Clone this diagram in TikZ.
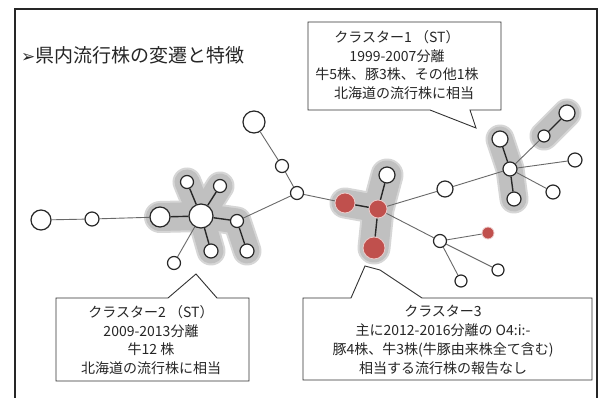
\documentclass[tikz,border=0pt]{standalone}
\usepackage{fontspec}
\setmainfont{Noto Sans CJK JP}
\newfontfamily\djv{DejaVu Sans}
\usetikzlibrary{backgrounds}
\definecolor{hlin}{RGB}{192,192,192}
\definecolor{hlout}{RGB}{214,214,214}
\definecolor{nred}{RGB}{192,80,77}
\definecolor{edg}{RGB}{105,105,105}
\definecolor{ndraw}{RGB}{40,40,40}
\definecolor{cdraw}{RGB}{50,50,50}
\tikzset{
  wn/.style={circle, draw=ndraw, fill=white, line width=1.2pt, inner sep=0pt, minimum size=#1},
  rn/.style={circle, draw=white!70!nred, fill=nred, line width=0.8pt, inner sep=0pt, minimum size=#1},
  tedge/.style={draw=ndraw, line width=1.4pt},
  fedge/.style={draw=edg, line width=0.9pt},
  hlo/.style={draw=hlout, line width=#1, line cap=round, line join=round},
  hli/.style={draw=hlin, line width=#1, line cap=round, line join=round},
  callout/.style={draw=cdraw, line width=0.9pt, fill=white},
  ctext/.style={align=center, inner sep=0pt, font=\fontsize{14}{18.8}\selectfont, text=black!85},
}
\begin{document}
\begin{tikzpicture}[x=1pt, y=-1pt]
\useasboundingbox (0,0) rectangle (602,398);
% frame
\draw[line width=2pt, draw=black!85] (15,398) -- (15,9) -- (597,9) -- (597,398);
% title
\node[anchor=west, inner sep=0pt, font=\fontsize{19}{22}\selectfont, text=black!85] (title) at (21,55) {{\djv\fontsize{17}{20}\selectfont ➢}県内流行株の変遷と特徴};

% nodes
\node[wn=20pt] (A) at (41,220) {};
\node[wn=14pt] (B) at (92,219) {};
\node[wn=20pt] (C2L) at (160,217) {};
\node[wn=24pt] (C2C) at (201,216) {};
\node[wn=13pt] (C2TL) at (187,182) {};
\node[wn=13pt] (C2TR) at (220,186) {};
\node[wn=13pt] (C2R) at (237,221) {};
\node[wn=14pt] (C2B) at (211,251) {};
\node[wn=14pt] (C2BR) at (247,251) {};
\node[wn=13pt] (LL) at (174,263) {};
\node[wn=13pt] (J) at (297,193) {};
\node[wn=13pt] (K) at (282,166) {};
\node[wn=22pt] (BIG) at (254,122) {};
\node[rn=20pt] (R1) at (345,203) {};
\node[rn=18pt] (R2) at (378,209) {};
\node[wn=16pt] (RT) at (387,175) {};
\node[rn=22pt] (RB) at (374,248) {};
\node[wn=16pt] (W) at (445,189) {};
\node[wn=14pt] (H) at (510,169) {};
\node[wn=16pt] (VT) at (500,139) {};
\node[wn=14pt] (VB) at (514,199) {};
\node[wn=12pt] (D1) at (544,136) {};
\node[wn=16pt] (D2) at (567,113) {};
\node[wn=14pt] (RR) at (575,160) {};
\node[wn=14pt] (LR) at (553,192) {};
\node[wn=13pt] (M) at (440,241) {};
\node[rn=12pt] (SR) at (488,233) {};
\node[wn=12pt] (BR) at (498,270) {};
\node[wn=12pt] (BB) at (461,281) {};

\begin{scope}[on background layer]
  \fill[white] (0,0) rectangle (602,398);
  % highlights outer
  \draw[hlo=32pt] (C2L.center) -- (C2C.center);
  \draw[hlo=29pt] (C2C.center) -- (C2TL.center);
  \draw[hlo=29pt] (C2C.center) -- (C2TR.center);
  \draw[hlo=29pt] (C2C.center) -- (C2R.center) -- (C2BR.center);
  \draw[hlo=29pt] (C2C.center) -- (C2B.center);
  \draw[hlo=31pt] (R1.center) -- (R2.center);
  \draw[hlo=33pt] (RT.center) -- (R2.center) -- (RB.center);
  \draw[hlo=29pt] (VT.center) -- (H.center) -- (VB.center);
  \draw[hlo=29pt] (D1.center) -- (D2.center);
  % highlights inner
  \draw[hli=28pt] (C2L.center) -- (C2C.center);
  \draw[hli=25pt] (C2C.center) -- (C2TL.center);
  \draw[hli=25pt] (C2C.center) -- (C2TR.center);
  \draw[hli=25pt] (C2C.center) -- (C2R.center) -- (C2BR.center);
  \draw[hli=25pt] (C2C.center) -- (C2B.center);
  \fill[hlin] (C2C) circle (18pt);
  \draw[hli=27pt] (R1.center) -- (R2.center);
  \draw[hli=29pt] (RT.center) -- (R2.center) -- (RB.center);
  \draw[hli=25pt] (VT.center) -- (H.center) -- (VB.center);
  \draw[hli=25pt] (D1.center) -- (D2.center);
  % edges
  \draw[fedge] (A) -- (B);
  \draw[fedge] (B) -- (C2L);
  \draw[tedge] (C2L) -- (C2C);
  \draw[tedge] (C2C) -- (C2TL);
  \draw[tedge] (C2C) -- (C2TR);
  \draw[tedge] (C2C) -- (C2R);
  \draw[tedge] (C2C) -- (C2B);
  \draw[tedge] (C2R) -- (C2BR);
  \draw[fedge] (C2C) -- (LL);
  \draw[fedge] (C2R) -- (J);
  \draw[fedge] (J) -- (K);
  \draw[fedge] (K) -- (BIG);
  \draw[fedge] (J) -- (R1);
  \draw[tedge] (R1) -- (R2);
  \draw[tedge] (R2) -- (RT);
  \draw[tedge] (R2) -- (RB);
  \draw[fedge] (R2) -- (W);
  \draw[fedge] (W) -- (H);
  \draw[tedge] (H) -- (VT);
  \draw[tedge] (H) -- (VB);
  \draw[fedge] (H) -- (D1);
  \draw[tedge] (D1) -- (D2);
  \draw[fedge] (H) -- (RR);
  \draw[fedge] (H) -- (LR);
  \draw[fedge] (R2) -- (M);
  \draw[fedge] (M) -- (SR);
  \draw[fedge] (M) -- (BR);
  \draw[fedge] (M) -- (BB);
\end{scope}

% callouts
\draw[callout] (308,22) -- (501,22) -- (501,110) -- (470,110) -- (476,128) -- (430,110) -- (308,110) -- cycle;
\node[ctext] (t1) at (397,65) {クラスター1 （ST）\\1999-2007分離\\牛5株、豚3株、その他1株\\\hspace*{1em}北海道の流行株に相当};

\draw[callout] (56,298) -- (168,298) -- (196,274) -- (217,298) -- (249,298) -- (249,381) -- (56,381) -- cycle;
\node[ctext] (t2) at (151,340) {クラスター2 （ST）\\2009-2013分離\\牛12 株\\北海道の流行株に相当};

\draw[callout] (303,298) -- (351,298) -- (365,266) -- (380,270) -- (422,298) -- (592,298) -- (592,380) -- (303,380) -- cycle;
\node[ctext] (t3) at (443,340) {クラスター3\\主に2012-2016分離の O4:i:-\\豚4株、牛3株(牛豚由来株全て含む)\\相当する流行株の報告なし};
\end{tikzpicture}
\end{document}
